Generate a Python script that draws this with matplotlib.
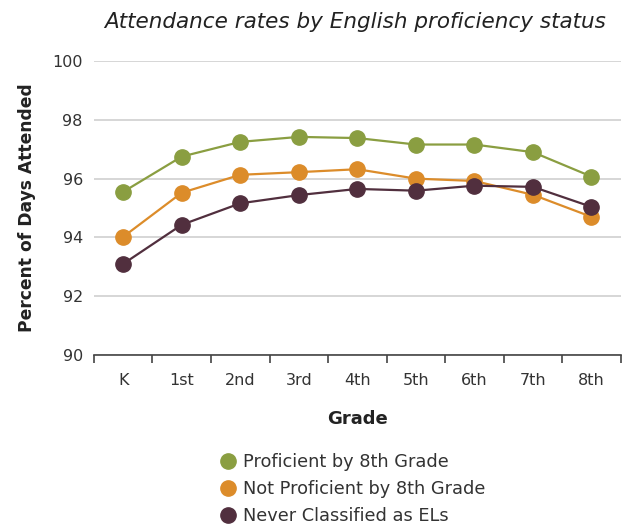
import matplotlib
matplotlib.use('Agg')
import matplotlib.pyplot as plt

plt.rcParams['font.family'] = ['DejaVu Sans']

grades = ['K', '1st', '2nd', '3rd', '4th', '5th', '6th', '7th', '8th']
proficient = [95.55, 96.75, 97.25, 97.42, 97.38, 97.16, 97.16, 96.9, 96.07]
not_proficient = [94.02, 95.52, 96.13, 96.22, 96.32, 96.0, 95.92, 95.45, 94.7]
never_el = [93.1, 94.43, 95.16, 95.44, 95.65, 95.59, 95.76, 95.72, 95.04]

labels = ['Proficient by 8th Grade', 'Not Proficient by 8th Grade', 'Never Classified as ELs']
colors = ['#8a9e41', '#dc8c2a', '#512f3e']

fig = plt.figure(figsize=(6.22, 5.24), dpi=100)
ax = fig.add_axes([0.151, 0.3225, 0.847, 0.561])

x = list(range(len(grades)))
for vals, lab, col in zip([proficient, not_proficient, never_el], labels, colors):
    ax.plot(x, vals, color=col, lw=1.6, marker='o', markersize=11, label=lab, zorder=3)

ax.set_xlim(-0.5, 8.5)
ax.set_ylim(90, 100)
ax.set_yticks([90, 92, 94, 96, 98, 100])
ax.yaxis.grid(True, color='#d0d0d0', lw=1.2)
ax.set_axisbelow(True)
ax.set_xticks(x)
ax.set_xticklabels(grades)
ax.set_xticks([i - 0.5 for i in range(len(grades) + 1)], minor=True)
ax.tick_params(axis='x', which='major', length=0, pad=13, labelsize=11.5, colors='#333333')
ax.tick_params(axis='x', which='minor', length=6, width=1.2, color='#444444')
ax.tick_params(axis='y', length=0, pad=8, labelsize=11.5, labelcolor='#333333')
for s in ['top', 'right', 'left']:
    ax.spines[s].set_visible(False)
ax.spines['bottom'].set_color('#444444')
ax.spines['bottom'].set_linewidth(1.2)

ax.set_xlabel('Grade', fontsize=13, fontweight='semibold', labelpad=16, color='#222222')
ax.set_ylabel('Percent of Days Attended', fontsize=12.3, fontweight='semibold', labelpad=12, color='#222222')
fig.text(0.571, 0.958, 'Attendance rates by English proficiency status', ha='center', va='center',
         fontsize=15.5, style='italic', color='#222222')

hs = [plt.Line2D([], [], color=c, marker='o', markersize=11, lw=0) for c in colors]
fig.legend(hs, labels, loc='center', bbox_to_anchor=(0.565, 0.067), frameon=False, fontsize=12.8,
           handletextpad=0.25, labelspacing=0.5, handlelength=1.2, labelcolor='#333333')

fig.savefig('out.png', dpi=100)
